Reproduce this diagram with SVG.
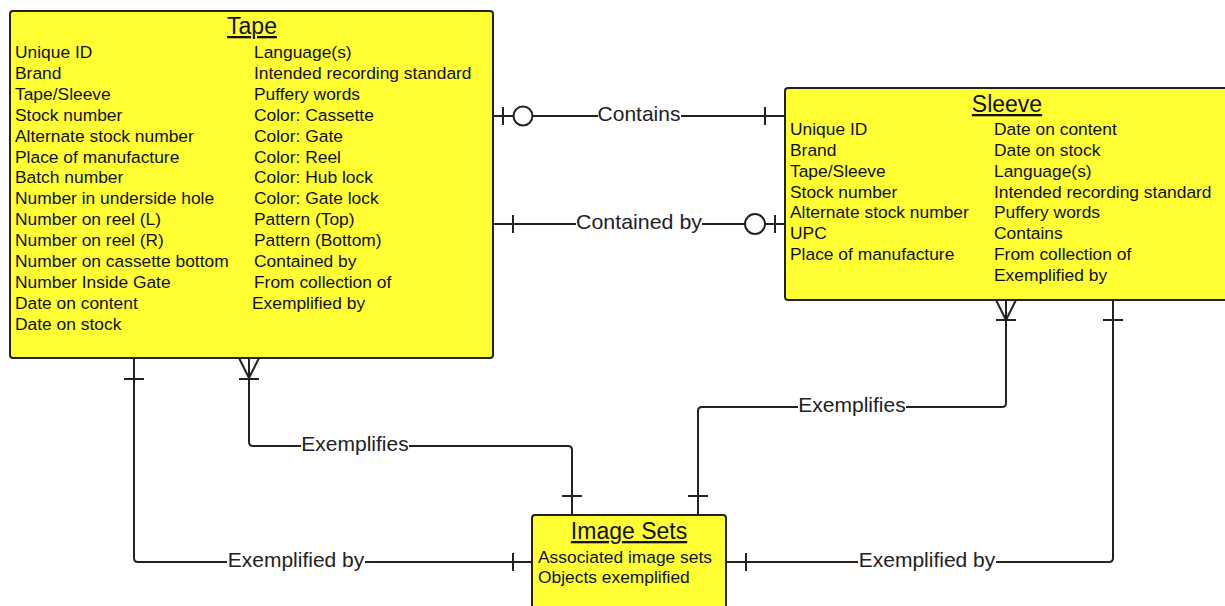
<svg xmlns="http://www.w3.org/2000/svg" xmlns:xlink="http://www.w3.org/1999/xlink" width="1225" height="606" viewBox="0 0 1225 606">
<style>
.box{fill:#ffff33;stroke:#222;stroke-width:2}
.title{font-family:"Liberation Sans",Arial,sans-serif;font-size:23px;fill:#111;text-anchor:middle;text-decoration:underline}
.attr{font-family:"Liberation Sans",Arial,sans-serif;font-size:17.4px;fill:#111}
.line{fill:none;stroke:#222;stroke-width:2}
.lbl{font-family:"Liberation Sans",Arial,sans-serif;font-size:21px;fill:#222;text-anchor:middle}
.gap{fill:#fff}
.ring{fill:#fff;stroke:#222;stroke-width:2}
</style>
<defs>
<path id="barH" class="line" d="M-10,0 H10"/>
<path id="barV" class="line" d="M0,-9 V9"/>
<path id="crowUp" class="line" d="M-10,0 L0,20 L10,0"/>
</defs>
<rect width="1225" height="606" fill="#fff"/>
<g id="connectors">
  <g id="c-contains">
    <path class="line" d="M493,116 H785"/>
    <use xlink:href="#barV" x="503" y="116"/>
    <circle class="ring" cx="523" cy="116" r="9.5"/>
    <use xlink:href="#barV" x="765" y="116"/>
    <rect class="gap" x="598" y="105" width="83" height="22"/>
    <text class="lbl" x="639" y="121">Contains</text>
  </g>
  <g id="c-contained-by">
    <path class="line" d="M493,224 H785"/>
    <use xlink:href="#barV" x="513" y="224"/>
    <circle class="ring" cx="755" cy="224" r="10"/>
    <use xlink:href="#barV" x="775" y="224"/>
    <rect class="gap" x="576" y="213" width="126" height="22"/>
    <text class="lbl" x="639" y="229" textLength="126" lengthAdjust="spacingAndGlyphs">Contained by</text>
  </g>
  <g id="c-tape-exemplifies">
    <path class="line" d="M249,358 V442 Q249,446 253,446 H568 Q572,446 572,450 V515"/>
    <use xlink:href="#crowUp" x="249" y="358"/>
    <use xlink:href="#barH" x="249" y="379"/>
    <use xlink:href="#barH" x="572" y="496"/>
    <rect class="gap" x="301" y="435" width="108" height="22"/>
    <text class="lbl" x="355" y="451">Exemplifies</text>
  </g>
  <g id="c-tape-exemplified-by">
    <path class="line" d="M134,358 V558 Q134,562 138,562 H532"/>
    <use xlink:href="#barH" x="134" y="379"/>
    <use xlink:href="#barV" x="513" y="562"/>
    <rect class="gap" x="227" y="551" width="138" height="22"/>
    <text class="lbl" x="296" y="567">Exemplified by</text>
  </g>
  <g id="c-sleeve-exemplifies">
    <path class="line" d="M1006,300 V403 Q1006,407 1002,407 H702 Q698,407 698,411 V515"/>
    <use xlink:href="#crowUp" x="1006" y="300"/>
    <use xlink:href="#barH" x="1006" y="320"/>
    <use xlink:href="#barH" x="698" y="496"/>
    <rect class="gap" x="798" y="396" width="108" height="22"/>
    <text class="lbl" x="852" y="412">Exemplifies</text>
  </g>
  <g id="c-sleeve-exemplified-by">
    <path class="line" d="M1113,300 V558 Q1113,562 1109,562 H726"/>
    <use xlink:href="#barH" x="1113" y="320"/>
    <use xlink:href="#barV" x="746" y="562"/>
    <rect class="gap" x="858" y="551" width="138" height="22"/>
    <text class="lbl" x="927" y="567">Exemplified by</text>
  </g>
</g>
<g id="tape">
  <rect class="box" x="10" y="11" width="483" height="347" rx="3"/>
  <text class="title" x="252" y="34">Tape</text>
  <text class="attr" x="15" y="58">Unique ID</text>
  <text class="attr" x="15" y="79">Brand</text>
  <text class="attr" x="15" y="100">Tape/Sleeve</text>
  <text class="attr" x="15" y="121">Stock number</text>
  <text class="attr" x="15" y="142">Alternate stock number</text>
  <text class="attr" x="15" y="163">Place of manufacture</text>
  <text class="attr" x="15" y="183">Batch number</text>
  <text class="attr" x="15" y="204">Number in underside hole</text>
  <text class="attr" x="15" y="225">Number on reel (L)</text>
  <text class="attr" x="15" y="246">Number on reel (R)</text>
  <text class="attr" x="15" y="267">Number on cassette bottom</text>
  <text class="attr" x="15" y="288">Number Inside Gate</text>
  <text class="attr" x="15" y="309">Date on content</text>
  <text class="attr" x="15" y="330">Date on stock</text>
  <text class="attr" x="254" y="58">Language(s)</text>
  <text class="attr" x="254" y="79">Intended recording standard</text>
  <text class="attr" x="254" y="100">Puffery words</text>
  <text class="attr" x="254" y="121">Color: Cassette</text>
  <text class="attr" x="254" y="142">Color: Gate</text>
  <text class="attr" x="254" y="163">Color: Reel</text>
  <text class="attr" x="254" y="183">Color: Hub lock</text>
  <text class="attr" x="254" y="204">Color: Gate lock</text>
  <text class="attr" x="254" y="225">Pattern (Top)</text>
  <text class="attr" x="254" y="246">Pattern (Bottom)</text>
  <text class="attr" x="254" y="267">Contained by</text>
  <text class="attr" x="254" y="288">From collection of</text>
  <text class="attr" x="252" y="309">Exemplified by</text>
</g>
<g id="sleeve">
  <rect class="box" x="785" y="88" width="445" height="212" rx="3"/>
  <text class="title" x="1007" y="112">Sleeve</text>
  <text class="attr" x="790" y="135">Unique ID</text>
  <text class="attr" x="790" y="156">Brand</text>
  <text class="attr" x="790" y="177">Tape/Sleeve</text>
  <text class="attr" x="790" y="198">Stock number</text>
  <text class="attr" x="790" y="218">Alternate stock number</text>
  <text class="attr" x="790" y="239">UPC</text>
  <text class="attr" x="790" y="260">Place of manufacture</text>
  <text class="attr" x="994" y="135">Date on content</text>
  <text class="attr" x="994" y="156">Date on stock</text>
  <text class="attr" x="994" y="177">Language(s)</text>
  <text class="attr" x="994" y="198">Intended recording standard</text>
  <text class="attr" x="994" y="218">Puffery words</text>
  <text class="attr" x="994" y="239">Contains</text>
  <text class="attr" x="994" y="260">From collection of</text>
  <text class="attr" x="994" y="281">Exemplified by</text>
</g>
<g id="image-sets">
  <rect class="box" x="532" y="515" width="194" height="100" rx="3"/>
  <text class="title" x="629" y="539">Image Sets</text>
  <text class="attr" x="538" y="563">Associated image sets</text>
  <text class="attr" x="538" y="583">Objects exemplified</text>
</g>
</svg>
